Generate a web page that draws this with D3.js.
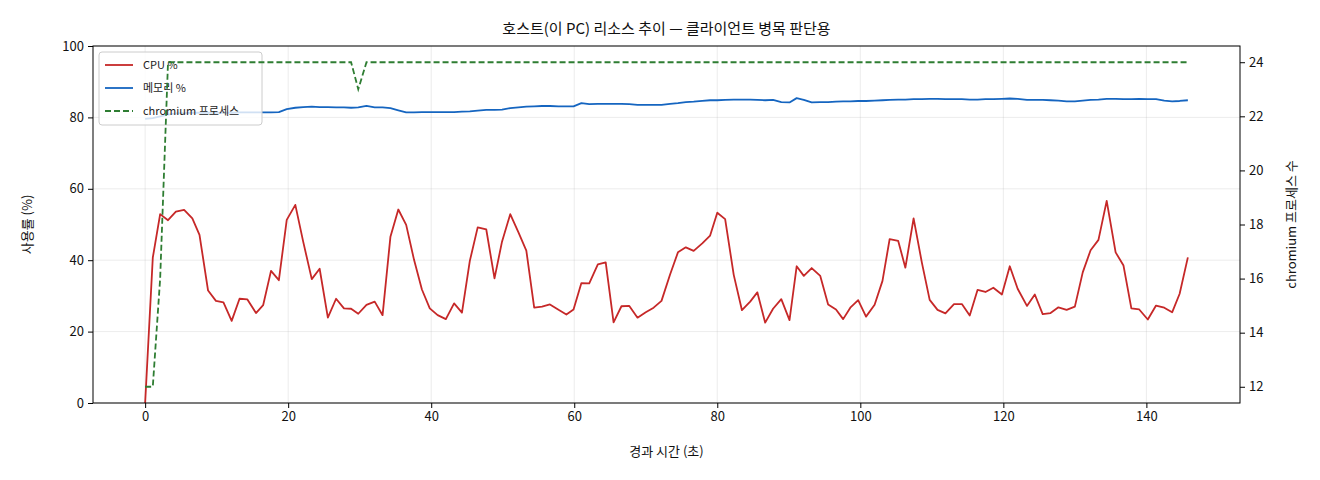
<!DOCTYPE html>
<html>
<head>
<meta charset="utf-8">
<script src="https://cdn.jsdelivr.net/npm/d3@7"></script>
<style>
  body { margin: 0; background: #fff; }
  svg { font-family: "Noto Sans CJK KR", "Noto Sans", sans-serif; }
</style>
</head>
<body>
<svg id="chart"></svg>
<script>
// 경과 시간 (초)
var times = [0.0, 1.07, 2.1, 3.2, 4.3, 5.45, 6.6, 7.6, 8.8, 9.9,
  10.95, 12.1, 13.2, 14.3, 15.5, 16.5, 17.6, 18.7, 19.8, 21.0,
  22.1, 23.3, 24.4, 25.55, 26.7, 27.8, 28.8, 29.8, 30.95, 32.1,
  33.2, 34.3, 35.4, 36.5, 37.6, 38.7, 39.8, 40.9, 42.05, 43.2,
  44.3, 45.4, 46.5, 47.7, 48.85, 49.9, 51.05, 52.2, 53.3, 54.4,
  55.5, 56.6, 57.8, 58.9, 59.9, 61.0, 62.1, 63.3, 64.4, 65.5,
  66.6, 67.7, 68.85, 70.0, 71.1, 72.2, 73.4, 74.5, 75.6, 76.7,
  77.9, 79.0, 80.0, 81.1, 82.3, 83.45, 84.6, 85.6, 86.7, 87.8,
  88.95, 90.1, 91.1, 92.1, 93.2, 94.4, 95.5, 96.6, 97.6, 98.6,
  99.7, 100.8, 102.0, 103.1, 104.1, 105.3, 106.3, 107.45, 108.6, 109.7,
  110.8, 111.9, 113.1, 114.2, 115.3, 116.4, 117.5, 118.6, 119.8, 120.9,
  122.0, 123.3, 124.4, 125.5, 126.6, 127.7, 128.85, 130.0, 131.1, 132.2,
  133.3, 134.45, 135.7, 136.8, 137.9, 139.0, 140.2, 141.35, 142.5, 143.6,
  144.65, 145.8];

var cpu = [0, 40.7, 52.9, 51.2, 53.6, 54.1, 51.7, 47.1, 31.5, 28.6,
  28.2, 23.0, 29.2, 29.0, 25.2, 27.4, 37.0, 34.4, 51.3, 55.5,
  45.2, 34.7, 37.6, 23.9, 29.2, 26.5, 26.4, 25.0, 27.5, 28.4,
  24.6, 46.6, 54.2, 49.9, 40.1, 31.8, 26.5, 24.6, 23.5, 27.9,
  25.3, 39.8, 49.2, 48.6, 34.9, 45.2, 52.9, 47.8, 42.7, 26.7,
  27.0, 27.6, 26.1, 24.8, 26.2, 33.6, 33.5, 38.8, 39.4, 22.6,
  27.1, 27.2, 23.9, 25.4, 26.7, 28.6, 36.0, 42.2, 43.6, 42.6,
  44.7, 46.9, 53.3, 51.5, 35.9, 26.0, 28.4, 31.0, 22.5, 26.4,
  29.1, 23.2, 38.3, 35.6, 37.8, 35.6, 27.6, 26.2, 23.5, 26.7,
  28.8, 24.2, 27.5, 34.2, 45.9, 45.4, 37.9, 51.7, 39.4, 28.9,
  26.1, 25.1, 27.7, 27.7, 24.5, 31.7, 31.1, 32.3, 30.4, 38.3,
  32.0, 27.2, 30.4, 24.9, 25.2, 26.8, 26.1, 27.0, 36.6, 42.8,
  45.7, 56.6, 42.2, 38.5, 26.5, 26.2, 23.4, 27.3, 26.7, 25.4,
  30.6, 40.8];

var memory = [79.6, 79.8, 80.3, 80.8, 81.1, 81.2, 81.3, 81.3, 81.3, 81.3,
  81.3, 81.3, 81.4, 81.4, 81.4, 81.4, 81.4, 81.5, 82.3, 82.7,
  82.9, 83.0, 82.9, 82.9, 82.8, 82.8, 82.7, 82.8, 83.2, 82.8,
  82.8, 82.6, 82.0, 81.4, 81.4, 81.5, 81.5, 81.5, 81.5, 81.5,
  81.6, 81.7, 81.9, 82.1, 82.1, 82.2, 82.6, 82.8, 83.0, 83.1,
  83.2, 83.2, 83.1, 83.1, 83.1, 84.0, 83.7, 83.8, 83.8, 83.8,
  83.8, 83.7, 83.5, 83.5, 83.5, 83.5, 83.8, 84.0, 84.3, 84.4,
  84.6, 84.8, 84.8, 84.9, 85.0, 85.0, 85.0, 84.9, 84.8, 84.9,
  84.3, 84.2, 85.4, 84.9, 84.2, 84.3, 84.3, 84.4, 84.5, 84.5,
  84.6, 84.6, 84.7, 84.8, 84.9, 85.0, 85.0, 85.1, 85.1, 85.2,
  85.2, 85.1, 85.1, 85.1, 85.0, 85.0, 85.1, 85.1, 85.2, 85.3,
  85.2, 84.9, 84.9, 84.9, 84.8, 84.7, 84.5, 84.5, 84.7, 84.9,
  85.0, 85.2, 85.2, 85.1, 85.1, 85.2, 85.1, 85.1, 84.7, 84.5,
  84.6, 84.8];

var chromium = [12, 12, 16, 24, 24, 24, 24, 24, 24, 24,
  24, 24, 24, 24, 24, 24, 24, 24, 24, 24,
  24, 24, 24, 24, 24, 24, 24, 23, 24, 24,
  24, 24, 24, 24, 24, 24, 24, 24, 24, 24,
  24, 24, 24, 24, 24, 24, 24, 24, 24, 24,
  24, 24, 24, 24, 24, 24, 24, 24, 24, 24,
  24, 24, 24, 24, 24, 24, 24, 24, 24, 24,
  24, 24, 24, 24, 24, 24, 24, 24, 24, 24,
  24, 24, 24, 24, 24, 24, 24, 24, 24, 24,
  24, 24, 24, 24, 24, 24, 24, 24, 24, 24,
  24, 24, 24, 24, 24, 24, 24, 24, 24, 24,
  24, 24, 24, 24, 24, 24, 24, 24, 24, 24,
  24, 24, 24, 24, 24, 24, 24, 24, 24, 24,
  24, 24];

var xTicks = [0, 20, 40, 60, 80, 100, 120, 140];
var yTicks = [0, 20, 40, 60, 80, 100];
var y2Ticks = [12, 14, 16, 18, 20, 22, 24];
var legendNames = ["CPU %", "메모리 %", "chromium 프로세스"];
var colors = ["#c62828", "#1565c0", "#2e7d32"];

var W = 1320, H = 480;
var m = {left: 93, right: 80, top: 46, bottom: 77};
var iw = W - m.left - m.right, ih = H - m.top - m.bottom;

var svg = d3.select("#chart").attr("width", W).attr("height", H);

// matplotlib 식 5% 여백
var tMax = d3.max(times);
var pad = tMax * 0.05;
var x = d3.scaleLinear().domain([-pad, tMax + pad]).range([0, iw]);
var y = d3.scaleLinear().domain([0, 100]).range([ih, 0]);
var cMin = d3.min(chromium), cMax = d3.max(chromium), cPad = (cMax - cMin) * 0.05;
var y2 = d3.scaleLinear().domain([cMin - cPad, cMax + cPad]).range([ih, 0]);

var g = svg.append("g").attr("transform", "translate(" + m.left + "," + m.top + ")");

// grid
g.append("g").selectAll("line").data(xTicks).join("line")
  .attr("x1", d => x(d)).attr("x2", d => x(d)).attr("y1", 0).attr("y2", ih)
  .attr("stroke", "#b0b0b0").attr("stroke-opacity", 0.3).attr("stroke-width", 0.8);
g.append("g").selectAll("line").data(yTicks).join("line")
  .attr("x1", 0).attr("x2", iw).attr("y1", d => y(d)).attr("y2", d => y(d))
  .attr("stroke", "#b0b0b0").attr("stroke-opacity", 0.3).attr("stroke-width", 0.8);

var pts = times.map((t, i) => ({t: t, cpu: cpu[i], mem: memory[i], chr: chromium[i]}));

var line = d3.line().x(d => x(d.t));
g.append("path").datum(pts)
  .attr("d", line.y(d => y(d.cpu)))
  .attr("fill", "none").attr("stroke", colors[0]).attr("stroke-width", 1.8)
  .attr("stroke-linejoin", "round");
g.append("path").datum(pts)
  .attr("d", d3.line().x(d => x(d.t)).y(d => y(d.mem)))
  .attr("fill", "none").attr("stroke", colors[1]).attr("stroke-width", 1.8)
  .attr("stroke-linejoin", "round");

// legend (왼쪽 축에 붙음 -> 보조축 선이 위에 그려짐)
var lg = g.append("g").attr("transform", "translate(6,6)");
lg.append("rect").attr("width", 163).attr("height", 73).attr("rx", 3)
  .attr("fill", "#fff").attr("fill-opacity", 0.8)
  .attr("stroke", "#cccccc").attr("stroke-width", 1);
legendNames.forEach(function(name, i) {
  var yy = 13 + i * 23;
  lg.append("line").attr("x1", 6).attr("x2", 34).attr("y1", yy).attr("y2", yy)
    .attr("stroke", colors[i]).attr("stroke-width", 1.8)
    .attr("stroke-dasharray", i == 2 ? "6,3" : null);
  lg.append("text").attr("x", 44).attr("y", yy).attr("dy", "0.35em")
    .attr("font-size", 11).attr("fill", "#222").text(name);
});

g.append("path").datum(pts)
  .attr("d", d3.line().x(d => x(d.t)).y(d => y2(d.chr)))
  .attr("fill", "none").attr("stroke", colors[2]).attr("stroke-width", 1.8)
  .attr("stroke-dasharray", "6,3");

// axes
var xAxis = g.append("g").attr("transform", "translate(0," + ih + ")")
  .call(d3.axisBottom(x).tickValues(xTicks).tickSize(5).tickPadding(4));
var yAxis = g.append("g").call(d3.axisLeft(y).tickValues(yTicks).tickSize(5).tickPadding(4));
var y2Axis = g.append("g").attr("transform", "translate(" + iw + ",0)")
  .call(d3.axisRight(y2).tickValues(y2Ticks).tickSize(5).tickPadding(4));
[xAxis, yAxis, y2Axis].forEach(function(a) {
  a.selectAll("text").attr("font-size", 13).attr("fill", "#111")
    .attr("font-family", "'Noto Sans CJK KR', sans-serif");
  a.selectAll("line").attr("stroke", "#000");
  a.select(".domain").remove();
});
// spines
g.append("rect").attr("width", iw).attr("height", ih)
  .attr("fill", "none").attr("stroke", "#000").attr("stroke-width", 1);

// labels
svg.append("text").attr("x", m.left + iw / 2).attr("y", 34)
  .attr("text-anchor", "middle").attr("font-size", 15).attr("fill", "#111")
  .text("호스트(이 PC) 리소스 추이 — 클라이언트 병목 판단용");
svg.append("text").attr("x", m.left + iw / 2).attr("y", 456)
  .attr("text-anchor", "middle").attr("font-size", 13).attr("fill", "#111")
  .text("경과 시간 (초)");
svg.append("text").attr("transform", "translate(32," + (m.top + ih / 2) + ") rotate(-90)")
  .attr("text-anchor", "middle").attr("font-size", 13).attr("fill", "#111")
  .text("사용률 (%)");
svg.append("text").attr("transform", "translate(1296," + (m.top + ih / 2) + ") rotate(-90)")
  .attr("text-anchor", "middle").attr("font-size", 13).attr("fill", "#111")
  .text("chromium 프로세스 수");
</script>
</body>
</html>
